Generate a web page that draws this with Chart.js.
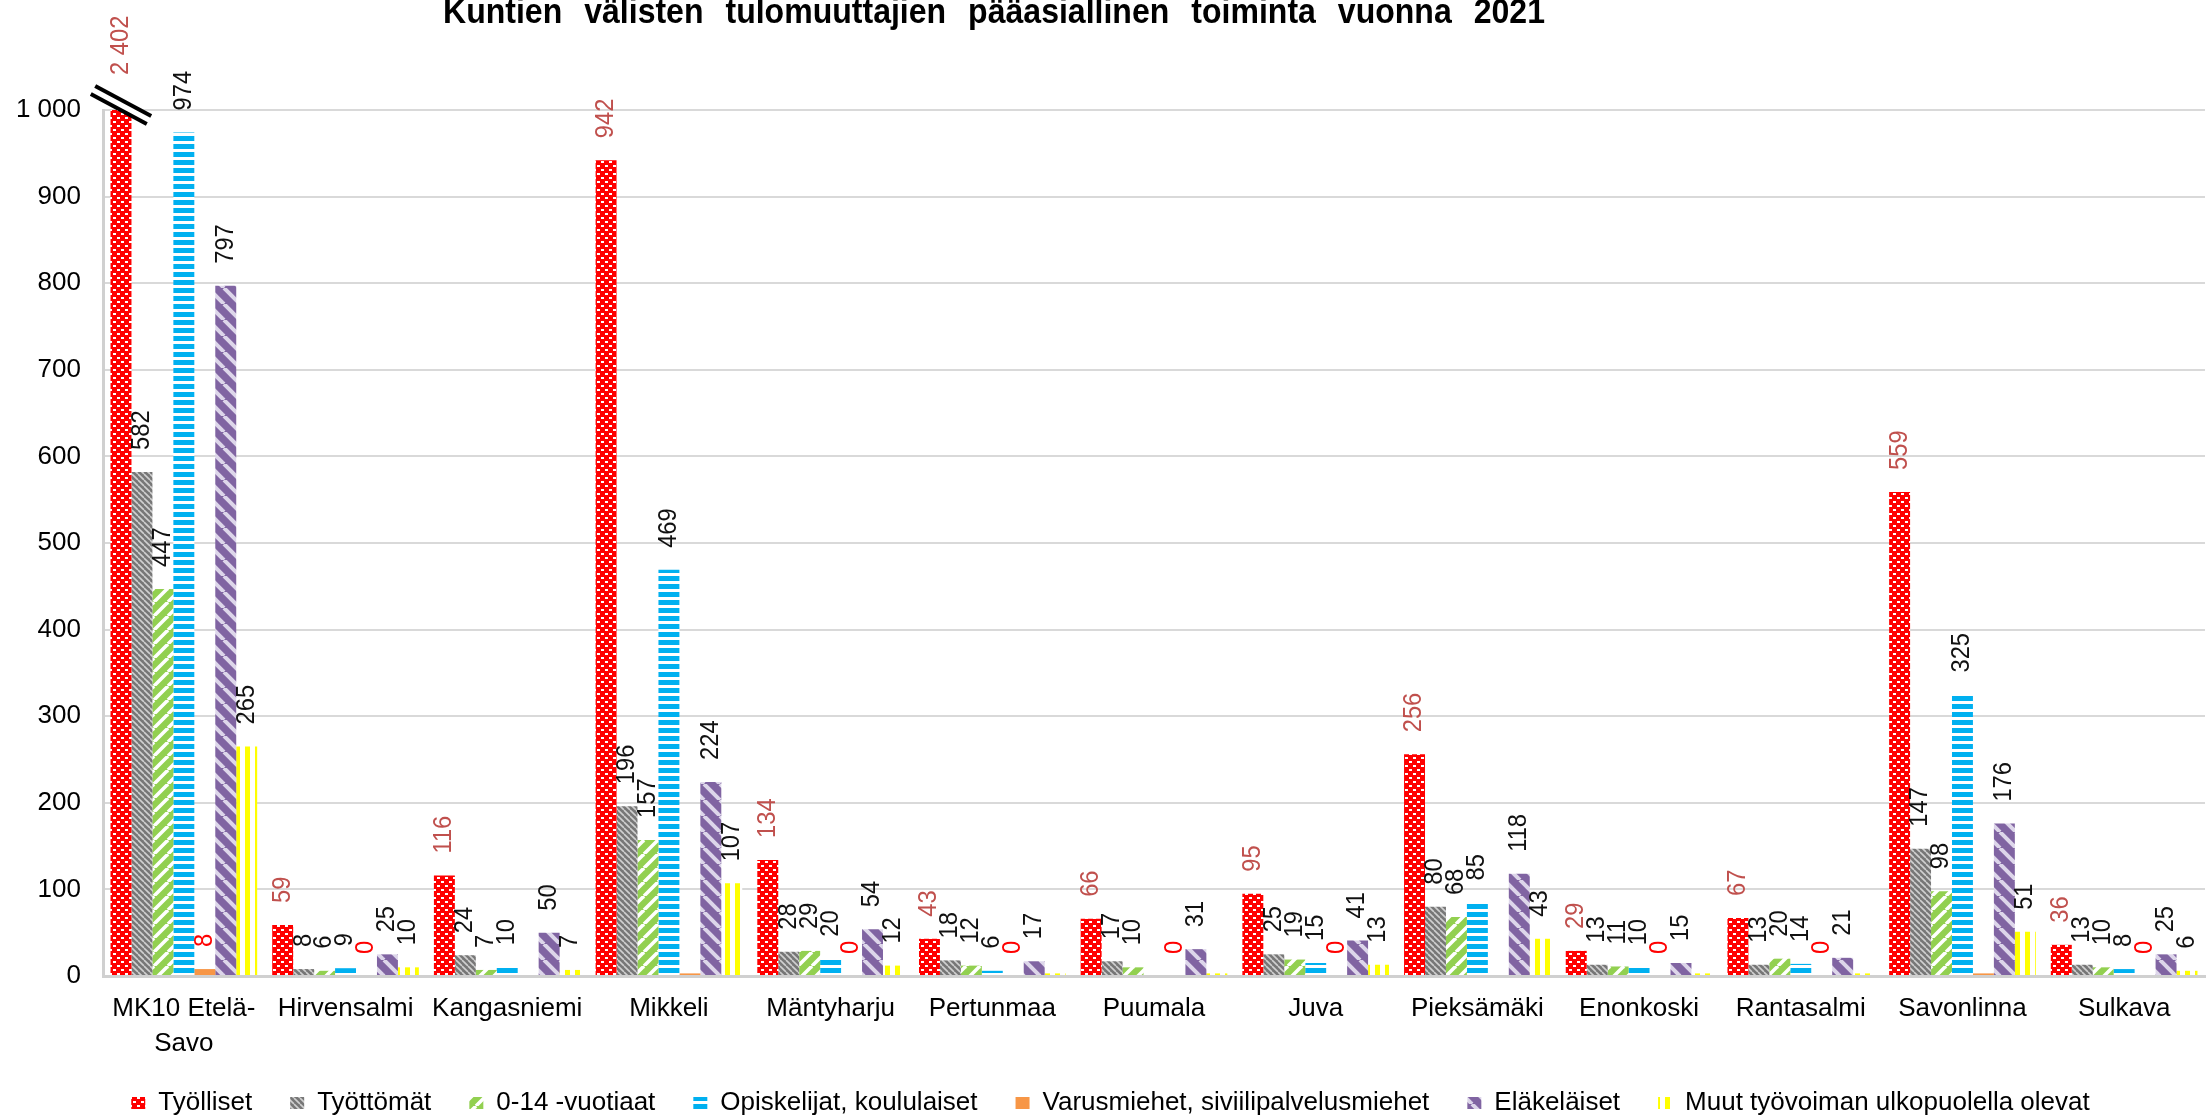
<!DOCTYPE html>
<html>
<head>
<meta charset="utf-8">
<script src="https://cdn.jsdelivr.net/npm/chart.js@4.4.1/dist/chart.umd.min.js"></script>
<style>
  html, body { margin: 0; padding: 0; background: #fff; }
  #wrap { width: 2208px; height: 1115px; }
</style>
</head>
<body>
<div id="wrap"><canvas id="chart" width="2208" height="1115"></canvas></div>
<script>
const titleText = "Kuntien välisten tulomuuttajien pääasiallinen toiminta vuonna 2021";

const municipalities = [["MK10 Etelä-", "Savo"], "Hirvensalmi", "Kangasniemi", "Mikkeli", "Mäntyharju",
  "Pertunmaa", "Puumala", "Juva", "Pieksämäki", "Enonkoski", "Rantasalmi", "Savonlinna", "Sulkava"];

const seriesNames = ["Työlliset", "Työttömät", "0-14 -vuotiaat", "Opiskelijat, koululaiset",
  "Varusmiehet, siviilipalvelusmiehet", "Eläkeläiset", "Muut työvoiman ulkopuolella olevat"];

const tyolliset    = [2402, 59, 116, 942, 134, 43, 66, 95, 256, 29, 67, 559, 36];
const tyottomat    = [582, 8, 24, 196, 28, 18, 17, 25, 80, 13, 13, 147, 13];
const lapset       = [447, 6, 7, 157, 29, 12, 10, 19, 68, 11, 20, 98, 10];
const opiskelijat  = [974, 9, 10, 469, 20, 6, null, 15, 85, 10, 14, 325, 8];
const varusmiehet  = [8, 0, null, 3, 0, 0, 0, 0, null, 0, 0, 3, 0];
const elakelaiset  = [797, 25, 50, 224, 54, 17, 31, 41, 118, 15, 21, 176, 25];
const muut         = [265, 10, 7, 107, 12, 3, 3, 13, 43, 3, 3, 51, 6];

// bars that have no data label in the original: [series, municipality]
const noLabel = [[4, 3], [4, 11], [6, 5], [6, 6], [6, 9], [6, 10]];

const yTickValues = [0, 100, 200, 300, 400, 500, 600, 700, 800, 900, 1000];

const FONT = '"Liberation Sans", Arial, sans-serif';

function fmt(v) {
  return String(v).replace(/\B(?=(\d{3})+(?!\d))/g, ' ');
}

let mainCtx = document.getElementById("chart").getContext("2d");

function makePattern(w, h, draw) {
  let c = document.createElement("canvas");
  c.width = w; c.height = h;
  let g = c.getContext("2d");
  draw(g, w, h);
  return mainCtx.createPattern(c, "repeat");
}

function diagonal(g, w, h, dir) {
  // dir 1 = "/" , -1 = "\"
  for (let k = -1; k <= 1; k++) {
    g.beginPath();
    if (dir > 0) {
      g.moveTo(k * w, h); g.lineTo(k * w + w, 0);
    } else {
      g.moveTo(k * w, 0); g.lineTo(k * w + w, h);
    }
    g.stroke();
  }
}

const redDots = makePattern(8, 8, (g, w, h) => {
  g.fillStyle = "#ff0000"; g.fillRect(0, 0, w, h);
  g.fillStyle = "#ffffff";
  g.fillRect(1, 1, 3, 2); g.fillRect(5, 5, 3, 2);
});
const grayHatch = makePattern(6, 6, (g, w, h) => {
  g.fillStyle = "#777777"; g.fillRect(0, 0, w, h);
  g.strokeStyle = "#d0d0d0"; g.lineWidth = 1.6;
  diagonal(g, w, h, -1);
});
const greenStripes = makePattern(14, 14, (g, w, h) => {
  g.fillStyle = "#92d050"; g.fillRect(0, 0, w, h);
  g.strokeStyle = "#ffffff"; g.lineWidth = 3.5;
  diagonal(g, w, h, 1);
});
const blueDashes = makePattern(4, 8, (g, w, h) => {
  g.fillStyle = "#ffffff"; g.fillRect(0, 0, w, h);
  g.fillStyle = "#00b0f0"; g.fillRect(0, 0, w, 5);
});
const purpleStripes = makePattern(16, 16, (g, w, h) => {
  g.fillStyle = "#8064a2"; g.fillRect(0, 0, w, h);
  g.strokeStyle = "#ddd6ea"; g.lineWidth = 4;
  diagonal(g, w, h, -1);
});
const yellowLines = makePattern(10, 4, (g, w, h) => {
  g.fillStyle = "#ffffff"; g.fillRect(0, 0, w, h);
  g.fillStyle = "#ffff00"; g.fillRect(5, 0, 5, h);
});

const fills = [redDots, grayHatch, greenStripes, blueDashes, "#f79646", purpleStripes, yellowLines];
const labelColors = ["#c0504d", "#111", "#111", "#111", "#ff0000", "#111", "#111"];
const seriesData = [tyolliset, tyottomat, lapset, opiskelijat, varusmiehet, elakelaiset, muut];

const barLabels = {
  id: "barLabels",
  afterDatasetsDraw(chart) {
    let ctx = chart.ctx;
    let yScale = chart.scales.y;
    let top = chart.chartArea.top;
    ctx.save();
    ctx.font = "25px " + FONT;
    ctx.textAlign = "left";
    ctx.textBaseline = "middle";
    chart.data.datasets.forEach((ds, di) => {
      let meta = chart.getDatasetMeta(di);
      meta.data.forEach((bar, i) => {
        let v = ds.data[i];
        if (v === null || v === undefined) return;
        if (noLabel.some(p => p[0] === di && p[1] === i)) return;
        let y0 = v > yScale.max ? top - 35 : bar.y - 22;
        ctx.save();
        ctx.translate(bar.x, y0);
        ctx.rotate(-Math.PI / 2);
        ctx.scale(0.95, 1);
        ctx.fillStyle = labelColors[di];
        ctx.fillText(fmt(v), 0, 0);
        ctx.restore();
      });
    });
    ctx.restore();
  }
};

const breakMarks = {
  id: "breakMarks",
  afterDatasetsDraw(chart) {
    let ctx = chart.ctx;
    let yScale = chart.scales.y;
    let top = chart.chartArea.top;
    chart.data.datasets.forEach((ds, di) => {
      chart.getDatasetMeta(di).data.forEach((bar, i) => {
        if (ds.data[i] === null || ds.data[i] <= yScale.max) return;
        let cx = bar.x, cy = top - 5;
        let dx = 28, dy = 15;
        let ox = 2.2, oy = -4;
        ctx.save();
        ctx.lineCap = "butt";
        ctx.strokeStyle = "#ffffff";
        ctx.lineWidth = 6;
        ctx.beginPath(); ctx.moveTo(cx - dx, cy - dy); ctx.lineTo(cx + dx, cy + dy); ctx.stroke();
        ctx.strokeStyle = "#000000";
        ctx.lineWidth = 4;
        ctx.beginPath(); ctx.moveTo(cx - dx + ox, cy - dy + oy); ctx.lineTo(cx + dx + ox, cy + dy + oy); ctx.stroke();
        ctx.beginPath(); ctx.moveTo(cx - dx - ox, cy - dy - oy); ctx.lineTo(cx + dx - ox, cy + dy - oy); ctx.stroke();
        ctx.restore();
      });
    });
  }
};

const titlePlugin = {
  id: "wideTitle",
  afterDraw(chart) {
    let ctx = chart.ctx;
    ctx.save();
    ctx.font = "bold 35px " + FONT;
    ctx.fillStyle = "#000";
    ctx.textBaseline = "alphabetic";
    let words = titleText.split(" ");
    let gap = 22, left = 443, width = 1102;
    let widths = words.map(w => ctx.measureText(w).width);
    let s = (width - gap * (words.length - 1)) / widths.reduce((a, b) => a + b, 0);
    let x = left;
    words.forEach((w, i) => {
      ctx.save();
      ctx.translate(x, 23);
      ctx.scale(s, 1);
      ctx.fillText(w, 0, 0);
      ctx.restore();
      x += widths[i] * s + gap;
    });
    ctx.restore();
  }
};

const legendFit = {
  id: "legendFit",
  beforeLayout(chart) {
    let lg = chart.legend;
    if (lg && !lg._fixedHeight) {
      let orig = lg.fit;
      lg.fit = function() { orig.call(this); this.height = 63; };
      lg._fixedHeight = true;
    }
  }
};

let chart = new Chart(mainCtx, {
  type: "bar",
  data: {
    labels: municipalities,
    datasets: seriesNames.map((name, k) => ({
      label: name,
      data: seriesData[k],
      backgroundColor: fills[k],
      borderWidth: 0,
      categoryPercentage: 0.907,
      barPercentage: 1.0
    }))
  },
  options: {
    responsive: false,
    animation: false,
    layout: { padding: { top: 110, left: 16, right: 3, bottom: 0 } },
    plugins: {
      title: { display: false },
      tooltip: { enabled: false },
      legend: {
        position: "bottom",
        labels: {
          color: "#000",
          font: { family: FONT, size: 26 },
          boxWidth: 14,
          boxHeight: 12,
          padding: 38
        }
      }
    },
    scales: {
      x: {
        grid: { display: false },
        border: { display: true, color: "#d0d0d0", width: 3 },
        ticks: {
          color: "#000",
          font: { family: FONT, size: 26, lineHeight: 1.35 },
          padding: 7,
          maxRotation: 0,
          autoSkip: false
        },
        afterFit(scale) {
          scale.height = 76;
          scale.paddingLeft = 0;
          scale.paddingRight = 0;
          // let the two-line first label run below the axis box
          scale._computeLabelArea = function() { return undefined; };
        }
      },
      y: {
        min: 0,
        max: 1000,
        afterBuildTicks(scale) { scale.ticks = yTickValues.map(v => ({ value: v })); },
        afterFit(scale) { scale.width = 87; },
        grid: { color: "#d9d9d9", lineWidth: 2, drawTicks: false },
        border: { display: true, color: "#d0d0d0", width: 3 },
        ticks: {
          color: "#000",
          font: { family: FONT, size: 26 },
          padding: 22,
          callback: v => fmt(v)
        }
      }
    }
  },
  plugins: [legendFit, barLabels, breakMarks, titlePlugin]
});
</script>
</body>
</html>
